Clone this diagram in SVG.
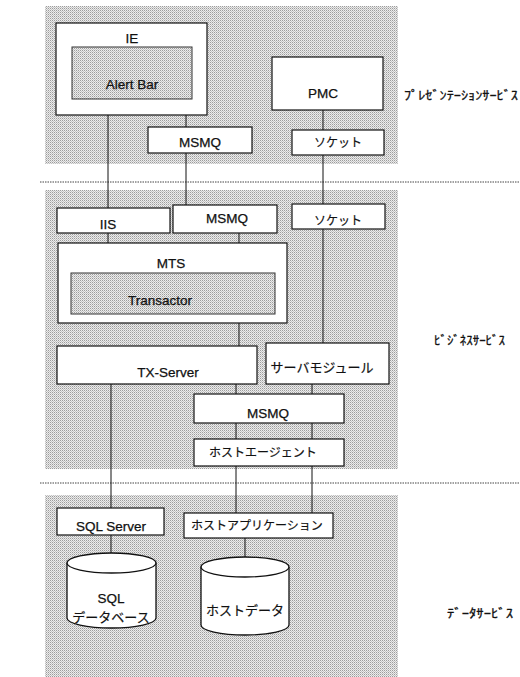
<svg xmlns="http://www.w3.org/2000/svg" width="520" height="677" viewBox="0 0 520 677">
<defs>
<pattern id="dots" width="2" height="2" patternUnits="userSpaceOnUse">
<rect width="2" height="2" fill="#ececec"/>
<rect width="1" height="1" fill="#9c9c9c"/>
<rect x="1" y="1" width="1" height="1" fill="#c4c4c4"/>
</pattern>
<style>
.band{fill:url(#dots);stroke:none}
.box{fill:#fff;stroke:#111;stroke-width:1.2}
.inner{fill:url(#dots);stroke:#333;stroke-width:1}
.cyl{fill:#fff;stroke:#111;stroke-width:1.3}
.t{font-family:"Liberation Sans",Arial,sans-serif;font-size:13.5px;fill:#111;stroke:#111;stroke-width:0.25;text-anchor:middle}
.j{font-family:"Noto Sans CJK JP","Noto Sans CJK SC",sans-serif;font-size:12px;fill:#111;stroke:#111;stroke-width:0.2;text-anchor:middle}
.lab{font-family:"Noto Sans CJK JP","Noto Sans CJK SC",sans-serif;font-size:12px;fill:#111;stroke:#111;stroke-width:0.3}
.c{stroke:#111;stroke-width:1;fill:none}
.sep{stroke:#444;stroke-width:1;stroke-dasharray:1.5 1;fill:none}
</style>
</defs>
<rect width="520" height="677" fill="#fff"/>
<g id="bands">
<rect class="band" x="45" y="6" width="353" height="158"/>
<rect class="band" x="45" y="190" width="353" height="279"/>
<rect class="band" x="45" y="495" width="353" height="182"/>
<line class="sep" x1="40" y1="182" x2="520" y2="182"/>
<line class="sep" x1="40" y1="483" x2="520" y2="483"/>
</g>
<g id="labels">
<text class="lab" x="404" y="100" textLength="114" lengthAdjust="spacingAndGlyphs">ﾌﾟﾚｾﾞﾝﾃｰｼｮﾝｻｰﾋﾞｽ</text>
<text class="lab" x="434" y="345" textLength="71" lengthAdjust="spacingAndGlyphs">ﾋﾞｼﾞﾈｽｻｰﾋﾞｽ</text>
<text class="lab" x="447" y="618" textLength="66" lengthAdjust="spacingAndGlyphs">ﾃﾞｰﾀｻｰﾋﾞｽ</text>
</g>
<g id="connectors">
<line class="c" x1="108" y1="115" x2="108" y2="208"/>
<line class="c" x1="186" y1="99" x2="186" y2="127"/>
<line class="c" x1="186" y1="153" x2="186" y2="205"/>
<line class="c" x1="323" y1="110" x2="323" y2="130"/>
<line class="c" x1="323" y1="155" x2="323" y2="204"/>
<line class="c" x1="108" y1="233" x2="108" y2="273"/>
<line class="c" x1="239" y1="233" x2="239" y2="273"/>
<line class="c" x1="239" y1="314" x2="239" y2="346"/>
<line class="c" x1="323" y1="229" x2="323" y2="343"/>
<line class="c" x1="236" y1="384" x2="236" y2="394" stroke="#555"/>
<line class="c" x1="312" y1="384" x2="312" y2="394"/>
<line class="c" x1="236" y1="423" x2="236" y2="439"/>
<line class="c" x1="312" y1="423" x2="312" y2="439"/>
<line class="c" x1="236" y1="466" x2="236" y2="513"/>
<line class="c" x1="312" y1="466" x2="312" y2="513" stroke="#666"/>
<line class="c" x1="111" y1="384" x2="111" y2="508"/>
<line class="c" x1="111" y1="535" x2="111" y2="553"/>
<line class="c" x1="245" y1="538" x2="245" y2="557"/>
</g>
<g id="ie">
<rect class="box" x="56" y="23" width="151" height="92"/>
<text class="t" x="132" y="43">IE</text>
</g>
<g id="alertbar">
<rect class="inner" x="72" y="47" width="120" height="52"/>
<text class="t" x="132" y="89">Alert Bar</text>
</g>
<g id="msmq-top">
<rect class="box" x="148" y="127" width="104" height="26"/>
<text class="t" x="200" y="147">MSMQ</text>
</g>
<g id="pmc">
<rect class="box" x="272" y="57" width="111" height="53"/>
<text class="t" x="323" y="98">PMC</text>
</g>
<g id="socket-top">
<rect class="box" x="292" y="130" width="92" height="25"/>
<text class="j" x="338" y="147">ソケット</text>
</g>
<g id="iis">
<rect class="box" x="57" y="208" width="113" height="25"/>
<text class="t" x="108" y="229">IIS</text>
</g>
<g id="msmq-mid">
<rect class="box" x="173" y="205" width="104" height="28"/>
<text class="t" x="227" y="223">MSMQ</text>
</g>
<g id="socket-mid">
<rect class="box" x="292" y="204" width="93" height="25"/>
<text class="j" x="338" y="225">ソケット</text>
</g>
<g id="mts">
<rect class="box" x="58" y="243" width="229" height="80"/>
<text class="t" x="171" y="268">MTS</text>
</g>
<g id="transactor">
<rect class="inner" x="71" y="273" width="204" height="41"/>
<text class="t" x="160" y="305">Transactor</text>
</g>
<g id="txserver">
<rect class="box" x="57" y="346" width="200" height="38"/>
<text class="t" x="168" y="377">TX-Server</text>
</g>
<g id="servermodule">
<rect class="box" x="266" y="343" width="123" height="41"/>
<text class="j" x="322" y="372" style="font-size:13px">サーバモジュール</text>
</g>
<g id="msmq-bottom">
<rect class="box" x="194" y="394" width="150" height="29"/>
<text class="t" x="268" y="418">MSMQ</text>
</g>
<g id="hostagent">
<rect class="box" x="194" y="439" width="150" height="27"/>
<text class="j" x="263" y="457">ホストエージェント</text>
</g>
<g id="sqlserver">
<rect class="box" x="57" y="508" width="107" height="27"/>
<text class="t" x="111" y="531">SQL Server</text>
</g>
<g id="hostapp">
<rect class="box" x="184" y="513" width="149" height="25"/>
<text class="j" x="257" y="530">ホストアプリケーション</text>
</g>
<g id="sqldb">
<path class="cyl" d="M67,563 A44.5,10 0 0 1 156,563 L156,618 A44.5,10 0 0 1 67,618 Z"/>
<path class="cyl" d="M67,563 A44.5,10 0 0 0 156,563"/>
<text class="t" x="111" y="603">SQL</text>
<text class="j" x="111" y="622" style="font-size:13px">データベース</text>
</g>
<g id="hostdata">
<path class="cyl" d="M201,567 A44,10 0 0 1 289,567 L289,625 A44,10 0 0 1 201,625 Z"/>
<path class="cyl" d="M201,567 A44,10 0 0 0 289,567"/>
<text class="j" x="245" y="615" style="font-size:13px">ホストデータ</text>
</g>
</svg>
